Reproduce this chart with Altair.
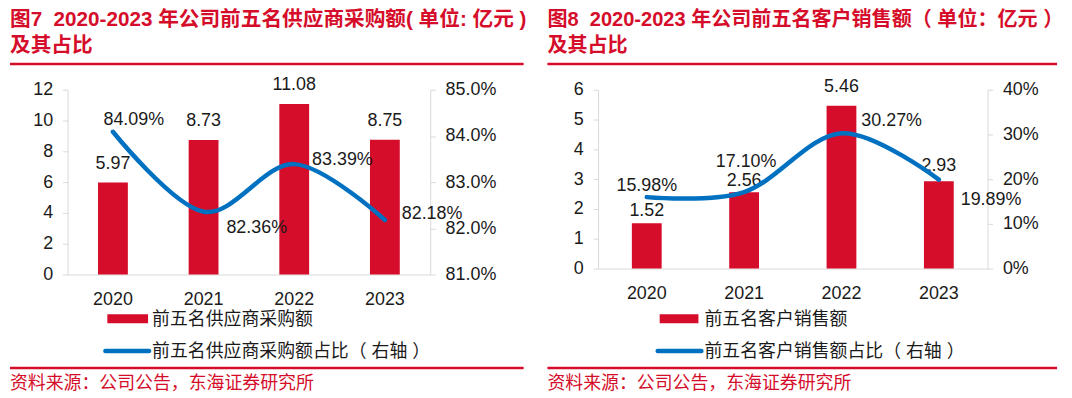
import altair as alt
import pandas as pd

# ---------------- data ----------------
years = ["2020", "2021", "2022", "2023"]
supplier_amount = [5.97, 8.73, 11.08, 8.75]          # 亿元
supplier_share = [84.09, 82.36, 83.39, 82.18]        # %
customer_amount = [1.52, 2.56, 5.46, 2.93]           # 亿元
customer_share = [15.98, 17.10, 30.27, 19.89]        # %

left_amount_ticks = [0, 2, 4, 6, 8, 10, 12]
left_share_ticks = [0.81, 0.82, 0.83, 0.84, 0.85]
right_amount_ticks = [0, 1, 2, 3, 4, 5, 6]
right_share_ticks = [0.0, 0.1, 0.2, 0.3, 0.4]

left_titles = ["图7\u00a0 2020-2023 年公司前五名供应商采购额( 单位: 亿元 )", "及其占比"]
right_titles = ["图8\u00a0 2020-2023 年公司前五名客户销售额（ 单位：亿元 ）", "及其占比"]
left_bar_name = "前五名供应商采购额"
left_line_name = "前五名供应商采购额占比（\u00a0右轴\u00a0）"
right_bar_name = "前五名客户销售额"
right_line_name = "前五名客户销售额占比（\u00a0右轴\u00a0）"
source_text = "资料来源：公司公告，东海证券研究所"

# ---------------- style ----------------
FONT = "Liberation Sans, Noto Sans CJK SC, sans-serif"
RED = "#D50D2A"
BLUE = "#0070C0"
GRAY = "#D9D9D9"
TXT = "#1A1A1A"

left_style = dict(
    W=365, H=186, pad=0.671, share_fmt=".1%", title_size=20.8,
    bar_dy=[-19, -19, -19, -19],
    line_lab=[("center", 21, -12), ("left", 23, 16), ("left", 18, -4), ("left", 17, -6)],
    tx=-58, ty=[-70, -44], top_bound=-81, rule_x=[-58, 459], rule_top=-26, rule_bot=280,
    leg_rect=[40, 81, 226, 235], leg_line=[38, 82, 263], leg_tx=85, leg_ty=[232, 264],
    src=(-58, 296),
)
right_style = dict(
    W=392, H=180, pad=0.694, share_fmt=".0%", title_size=20.2,
    bar_dy=[-12, -11, -19, -15],
    line_lab=[("center", 0, -11), ("center", 2, -30), ("left", 20, -12), ("left", 22, 21)],
    tx=-51, ty=[-70, -44], top_bound=-81, rule_x=[-51, 462], rule_top=-26, rule_bot=280,
    leg_rect=[62, 101, 226, 235], leg_line=[60, 104, 263], leg_tx=107, leg_ty=[232, 264],
    src=(-51, 296),
)

one = alt.Data(values=[{"d": 0}])


def text_at(txt, x, y, size, color, weight="normal"):
    return alt.Chart(one).mark_text(
        text=txt, align="left", baseline="middle", font=FONT, fontSize=size,
        fontWeight=weight, color=color,
    ).encode(x=alt.value(x), y=alt.value(y))


def panel(amount, share, amt_ticks, share_ticks, titles, bar_name, line_name, s):
    df = pd.DataFrame({"year": years, "amount": amount, "share": [v / 100 for v in share]})
    base = alt.Chart(df)

    xenc = alt.X(
        "year:N", sort=years,
        scale=alt.Scale(paddingInner=s["pad"], paddingOuter=s["pad"] / 2),
        axis=alt.Axis(title=None, labelAngle=0, ticks=False, tickSize=0, labelPadding=16,
                      labelFontSize=18, labelFont=FONT, labelColor=TXT,
                      domainColor=GRAY, domainWidth=1),
    )
    ya = alt.Y(
        "amount:Q",
        scale=alt.Scale(domain=[amt_ticks[0], amt_ticks[-1]], nice=False),
        axis=alt.Axis(title=None, orient="left", values=amt_ticks, grid=False,
                      tickSize=5, tickColor=GRAY, domainColor=GRAY, labelPadding=10,
                      labelFontSize=18, labelFont=FONT, labelColor=TXT),
    )
    ys = alt.Y(
        "share:Q",
        scale=alt.Scale(domain=[share_ticks[0], share_ticks[-1]], nice=False, zero=False),
        axis=alt.Axis(title=None, orient="right", values=share_ticks, format=s["share_fmt"],
                      grid=False, tickSize=5, tickColor=GRAY, domainColor=GRAY,
                      labelPadding=10, labelFontSize=18, labelFont=FONT, labelColor=TXT),
    )

    bars = base.mark_bar(color=RED).encode(x=xenc, y=ya)
    bar_labels = [
        base.transform_filter(alt.datum.year == yr).mark_text(
            baseline="middle", align="center", dy=d, font=FONT, fontSize=18, color=TXT
        ).encode(x=xenc, y=ya, text=alt.Text("amount:Q", format=".2f"))
        for yr, d in zip(years, s["bar_dy"])
    ]
    amount_layer = alt.layer(bars, *bar_labels)

    line = base.mark_line(color=BLUE, strokeWidth=4.5, interpolate="cardinal",
                          strokeCap="round").encode(x=xenc, y=ys)
    line_labels = [
        base.transform_filter(alt.datum.year == yr).mark_text(
            baseline="middle", align=al, dx=dx, dy=dy, font=FONT, fontSize=18, color=TXT
        ).encode(x=xenc, y=ys, text=alt.Text("share:Q", format=".2%"))
        for yr, (al, dx, dy) in zip(years, s["line_lab"])
    ]
    share_layer = alt.layer(line, *line_labels)

    deco = [
        # invisible rule reserving room above the title so its glyphs are not clipped
        alt.Chart(one).mark_rule(strokeOpacity=0).encode(
            x=alt.value(0), x2=alt.value(10), y=alt.value(s["top_bound"])),
        text_at(titles[0], s["tx"], s["ty"][0], s["title_size"], RED, "bold"),
        text_at(titles[1], s["tx"], s["ty"][1], s["title_size"], RED, "bold"),
        alt.Chart(one).mark_rule(color=RED, strokeWidth=2.5).encode(
            x=alt.value(s["rule_x"][0]), x2=alt.value(s["rule_x"][1]), y=alt.value(s["rule_top"])),
        alt.Chart(one).mark_rule(color=RED, strokeWidth=2.5).encode(
            x=alt.value(s["rule_x"][0]), x2=alt.value(s["rule_x"][1]), y=alt.value(s["rule_bot"])),
        alt.Chart(one).mark_rect(color=RED).encode(
            x=alt.value(s["leg_rect"][0]), x2=alt.value(s["leg_rect"][1]),
            y=alt.value(s["leg_rect"][2]), y2=alt.value(s["leg_rect"][3])),
        alt.Chart(one).mark_rule(color=BLUE, strokeWidth=4.5, strokeCap="round").encode(
            x=alt.value(s["leg_line"][0]), x2=alt.value(s["leg_line"][1]), y=alt.value(s["leg_line"][2])),
        text_at(bar_name, s["leg_tx"], s["leg_ty"][0], 18, TXT),
        text_at(line_name, s["leg_tx"], s["leg_ty"][1], 18, TXT),
        text_at(source_text, s["src"][0], s["src"][1], 18, RED),
    ]

    return alt.layer(amount_layer, share_layer, *deco).resolve_scale(y="independent").properties(
        width=s["W"], height=s["H"]
    )


left = panel(supplier_amount, supplier_share, left_amount_ticks, left_share_ticks,
             left_titles, left_bar_name, left_line_name, left_style)
right = panel(customer_amount, customer_share, right_amount_ticks, right_share_ticks,
              right_titles, right_bar_name, right_line_name, right_style)

chart = alt.hconcat(left, right, spacing=169).properties(
    padding=0, bounds="flush"
).configure_view(stroke=None)

chart.save("out.html", embed_options={"renderer": "svg", "actions": False})
